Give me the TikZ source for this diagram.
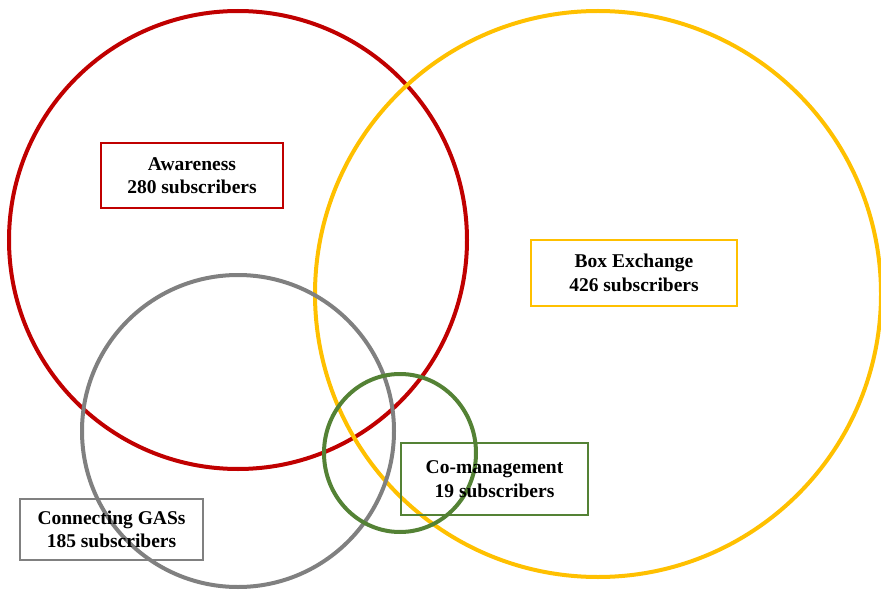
\documentclass[tikz,border=0pt]{standalone}
\usepackage{fontspec}
\setmainfont{Liberation Serif}
\definecolor{AwareRed}{RGB}{192, 0, 0}
\definecolor{BoxGold}{RGB}{255, 192, 0}
\definecolor{GasGray}{RGB}{128, 128, 128}
\definecolor{CoGreen}{RGB}{84, 130, 53}
\usetikzlibrary{shapes.geometric}

\begin{document}
\begin{tikzpicture}[x=1pt, y=-1pt,
        ring/.style={circle, draw, line width=4pt, inner sep=0pt, minimum size=#1},
        oval/.style={ellipse, draw, line width=4pt, inner sep=0pt},
        label box/.style={rectangle, draw=#1, line width=1.8pt, align=center, inner sep=0pt,
            font=\fontsize{19.5}{23.5}\selectfont\bfseries}
    ]
        \useasboundingbox (0,0) rectangle (881,591);

        % the four groups
        \node[ring=458pt, draw=AwareRed] (awareC) at (238,240) {};
        \node[ring=566pt, draw=BoxGold] (boxC) at (598,294) {};
        \node[ring=312pt, draw=GasGray] (gasC) at (238,431) {};
        \node[oval, draw=CoGreen, minimum width=152pt, minimum height=158pt] (coC) at (400,453) {};

        % labels
        \node[label box=AwareRed, minimum width=182pt, minimum height=65pt] (aware) at (192,175.5) {Awareness\\280 subscribers};
        \node[label box=BoxGold, minimum width=206pt, minimum height=66pt] (box) at (634,273) {Box Exchange\\426 subscribers};
        \node[label box=CoGreen, minimum width=187pt, minimum height=72pt] (comgmt) at (494.5,479) {Co-management\\19 subscribers};
        \node[label box=GasGray, minimum width=183pt, minimum height=61pt] (gas) at (111.5,529.5) {Connecting GASs\\185 subscribers};
    \end{tikzpicture}
\end{document}
